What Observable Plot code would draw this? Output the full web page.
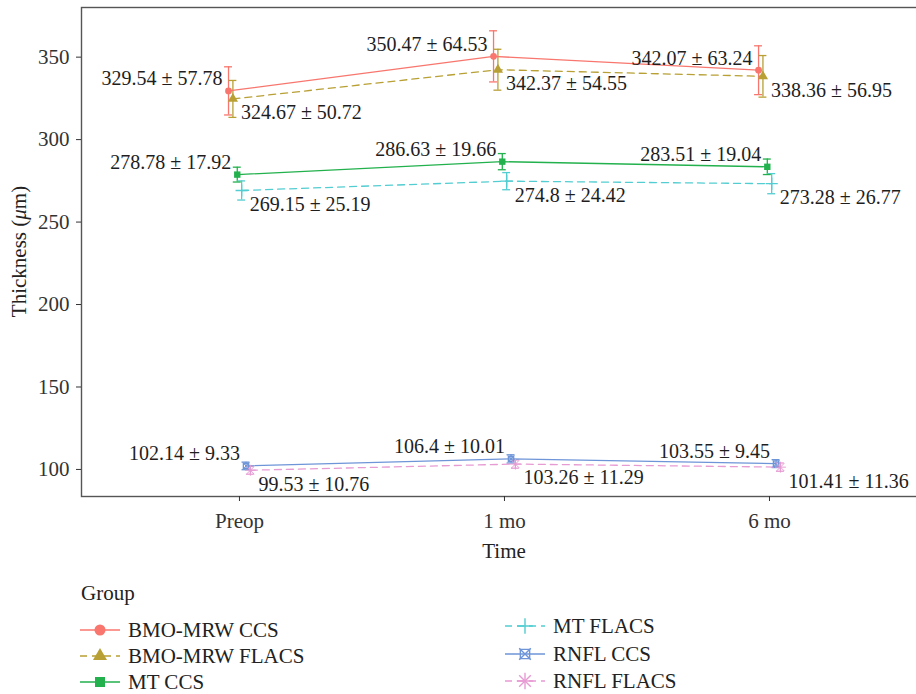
<!DOCTYPE html>
<html>
<head>
<meta charset="utf-8">
<script src="https://cdn.jsdelivr.net/npm/d3@7"></script>
<script src="https://cdn.jsdelivr.net/npm/@observablehq/plot@0.6"></script>
<style>
  body { margin: 0; background: #fff; font-family: "Liberation Serif", "DejaVu Serif", serif; }
  #wrap { position: relative; width: 916px; height: 694px; overflow: hidden; background: #fff; }
  #legend { position: absolute; left: 0; top: 570px; }
</style>
</head>
<body>
<div id="wrap"><div id="chart"></div><div id="legend"></div></div>
<script>
// ---- data ----
const times = ["Preop", "1 mo", "6 mo"];
const groups = ["BMO-MRW CCS", "BMO-MRW FLACS", "MT CCS", "MT FLACS", "RNFL CCS", "RNFL FLACS"];
const colors = ["#F8766D", "#B8A035", "#22B14C", "#52CDD1", "#6E95D8", "#E79BD3"];
const yTicks = [100, 150, 200, 250, 300, 350];

const meanBmoCcs = [329.54, 350.47, 342.07];
const sdBmoCcs   = [57.78, 64.53, 63.24];
const seBmoCcs   = [14.6, 15.5, 14.8];

const meanBmoFlacs = [324.67, 342.37, 338.36];
const sdBmoFlacs   = [50.72, 54.55, 56.95];
const seBmoFlacs   = [11.2, 12.4, 12.6];

const meanMtCcs = [278.78, 286.63, 283.51];
const sdMtCcs   = [17.92, 19.66, 19.04];
const seMtCcs   = [4.5, 4.9, 4.7];

const meanMtFlacs = [269.15, 274.8, 273.28];
const sdMtFlacs   = [25.19, 24.42, 26.77];
const seMtFlacs   = [5.8, 5.2, 6.1];

const meanRnflCcs = [102.14, 106.4, 103.55];
const sdRnflCcs   = [9.33, 10.01, 9.45];
const seRnflCcs   = [2.3, 2.5, 2.4];

const meanRnflFlacs = [99.53, 103.26, 101.41];
const sdRnflFlacs   = [10.76, 11.29, 11.36];
const seRnflFlacs   = [2.4, 2.5, 2.5];

// ---- build table ----
const series = [
  [meanBmoCcs, sdBmoCcs, seBmoCcs],
  [meanBmoFlacs, sdBmoFlacs, seBmoFlacs],
  [meanMtCcs, sdMtCcs, seMtCcs],
  [meanMtFlacs, sdMtFlacs, seMtFlacs],
  [meanRnflCcs, sdRnflCcs, seRnflCcs],
  [meanRnflFlacs, sdRnflFlacs, seRnflFlacs]
];
const dodge = 0.0165;   // position dodge between groups
const cap = 0.015;      // half width of error bar caps
const rows = [];
series.forEach(([m, s, e], gi) => m.forEach((v, ti) => rows.push({
  group: groups[gi], gi, ti, time: times[ti], mean: v, sd: s[ti], se: e[ti],
  flacs: groups[gi].endsWith("FLACS"),
  x: ti + (gi - 2.5) * dodge,
  label: `${v} ± ${s[ti]}`
})));
const ccs = rows.filter(d => !d.flacs);
const flacs = rows.filter(d => d.flacs);
const byG = i => rows.filter(d => d.gi === i);

const sw = 1.3;
const chart = Plot.plot({
  width: 916,
  height: 570,
  marginLeft: 81,
  marginRight: -3,
  marginTop: 7,
  marginBottom: 74,
  style: { fontFamily: "Liberation Serif, DejaVu Serif, serif", fontSize: "21px", color: "#333", background: "white" },
  x: { domain: [-0.596, 2.566] },
  y: { domain: [83.6, 380.1] },
  color: { domain: groups, range: colors },
  marks: [
    Plot.frame({ stroke: "#555", strokeWidth: 1.4 }),
    Plot.axisY(yTicks, { tickSize: 5, tickPadding: 7, label: null, fontSize: 21, fill: "#333" }),
    Plot.axisX([0, 1, 2], { tickFormat: d => times[d], tickSize: 5, tickPadding: 12, label: null, fontSize: 21, fill: "#333" }),
    Plot.ruleX(rows, { x: "x", y1: d => d.mean - d.se, y2: d => d.mean + d.se, stroke: "group", strokeWidth: sw }),
    Plot.ruleY(rows, { y: d => d.mean + d.se, x1: d => d.x - cap, x2: d => d.x + cap, stroke: "group", strokeWidth: sw }),
    Plot.ruleY(rows, { y: d => d.mean - d.se, x1: d => d.x - cap, x2: d => d.x + cap, stroke: "group", strokeWidth: sw }),
    Plot.line(ccs, { x: "x", y: "mean", z: "group", stroke: "group", strokeWidth: sw }),
    Plot.line(flacs, { x: "x", y: "mean", z: "group", stroke: "group", strokeWidth: sw, strokeDasharray: "7,5" }),
    Plot.dot(byG(0), { x: "x", y: "mean", fill: "group", symbol: "circle", r: 3.4 }),
    Plot.dot(byG(1), { x: "x", y: "mean", fill: "group", symbol: "triangle", r: 3.8 }),
    Plot.dot(byG(2), { x: "x", y: "mean", fill: "group", symbol: "square", r: 3.6 }),
    Plot.dot(byG(3), { x: "x", y: "mean", stroke: "group", symbol: "plus", r: 4, strokeWidth: sw }),
    Plot.dot(byG(4), { x: "x", y: "mean", stroke: "group", symbol: "square2", r: 3.4, strokeWidth: sw }),
    Plot.dot(byG(4), { x: "x", y: "mean", stroke: "group", symbol: "times", r: 3.0, strokeWidth: 1 }),
    Plot.dot(byG(5), { x: "x", y: "mean", stroke: "group", symbol: "plus", r: 3.6, strokeWidth: 1 }),
    Plot.dot(byG(5), { x: "x", y: "mean", stroke: "group", symbol: "times", r: 3.6, strokeWidth: 1 }),
    Plot.text(ccs, { x: "x", y: "mean", text: "label", textAnchor: "end", dx: -6, dy: -12, fill: "#1e1e1e", fontSize: 20 }),
    Plot.text(flacs, { x: "x", y: "mean", text: "label", textAnchor: "start", dx: 8, dy: 14, fill: "#1e1e1e", fontSize: 20 })
  ]
});
document.getElementById("chart").appendChild(chart);

// axis titles
const svg = d3.select(chart);
const yt = svg.append("text")
  .attr("transform", "translate(19,251.5) rotate(-90)")
  .attr("text-anchor", "middle").attr("dy", "0.35em")
  .attr("fill", "#222").style("font-size", "21px");
yt.append("tspan").text("Thickness (");
yt.append("tspan").attr("font-style", "italic").text("μ");
yt.append("tspan").text("m)");
svg.append("text").attr("x", 504).attr("y", 551).attr("text-anchor", "middle").attr("dy", "0.35em")
  .attr("fill", "#222").style("font-size", "21px").text("Time");

// ---- legend ----
const leg = d3.select("#legend").append("svg").attr("width", 916).attr("height", 124)
  .style("font-family", "Liberation Serif, DejaVu Serif, serif").style("font-size", "21px");
leg.append("text").attr("x", 81).attr("y", 23).attr("dy", "0.35em").attr("fill", "#222").text("Group");
const legPos = [[80, 60], [80, 86], [80, 112], [505, 56], [505, 84], [505, 111]];
const symDefs = [
  [[d3.symbolCircle, true, 95]],
  [[d3.symbolTriangle, true, 85]],
  [[d3.symbolSquare, true, 100]],
  [[d3.symbolPlus, false, 80]],
  [[d3.symbolSquare2, false, 110], [d3.symbolTimes, false, 90]],
  [[d3.symbolPlus, false, 90], [d3.symbolTimes, false, 90]]
];
groups.forEach((g, i) => {
  const [x0, y0] = legPos[i];
  const c = colors[i];
  const item = leg.append("g");
  item.append("line").attr("x1", x0).attr("x2", x0 + 40).attr("y1", y0).attr("y2", y0)
    .attr("stroke", c).attr("stroke-width", 1.5)
    .attr("stroke-dasharray", g.endsWith("FLACS") ? "7,5" : null);
  symDefs[i].forEach(([type, filled, size]) => {
    item.append("path").attr("transform", `translate(${x0 + 20},${y0})`)
      .attr("d", d3.symbol(type, size)())
      .attr("fill", filled ? c : "none").attr("stroke", filled ? "none" : c).attr("stroke-width", 1.4);
  });
  item.append("text").attr("x", x0 + 48).attr("y", y0).attr("dy", "0.35em").attr("fill", "#222").text(g);
});
</script>
</body>
</html>
